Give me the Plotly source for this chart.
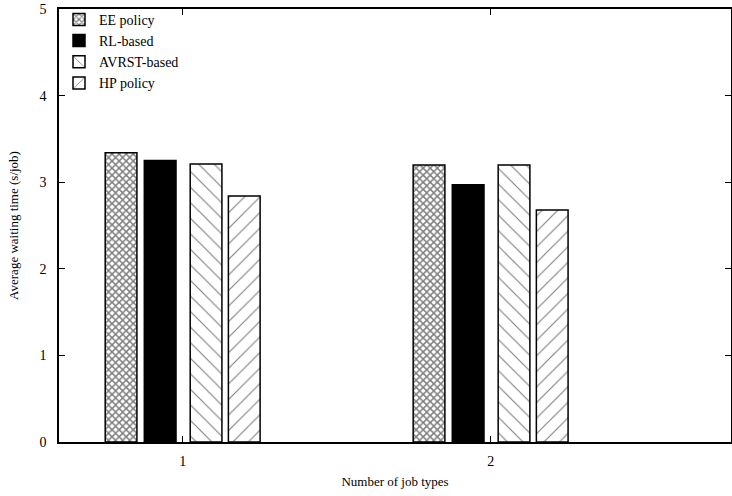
import plotly.graph_objects as go

categories = [1, 2]
series_names = ["EE policy", "RL-based", "AVRST-based", "HP policy"]
ee_policy = [3.34, 3.20]
rl_based = [3.25, 2.97]
avrst_based = [3.21, 3.20]
hp_policy = [2.84, 2.68]
x_tick_labels = ["1", "2"]
y_ticks = [0, 1, 2, 3, 4, 5]

values = [ee_policy, rl_based, avrst_based, hp_policy]
offsets = [-0.252, -0.125, 0.024, 0.148]
patterns = [
    dict(shape="x", size=5, solidity=0.5, fgcolor="black", bgcolor="white"),
    dict(shape="", fgcolor="black"),
    dict(shape="\\", size=11, solidity=0.1, fgcolor="black", bgcolor="white"),
    dict(shape="/", size=11, solidity=0.1, fgcolor="black", bgcolor="white"),
]
colors = ["white", "black", "white", "white"]

fig = go.Figure()
for name, vals, off, pat, col in zip(series_names, values, offsets, patterns, colors):
    fig.add_trace(go.Bar(
        x=categories, y=vals, name=name,
        offset=off, width=0.103,
        marker=dict(color=col, pattern=pat, line=dict(color="black", width=1.5)),
    ))

font = "Liberation Serif, Times New Roman, serif"
fig.update_layout(
    width=732, height=496,
    margin=dict(l=59, r=1, t=9, b=54),
    barmode="overlay",
    plot_bgcolor="white", paper_bgcolor="white",
    font=dict(family=font, size=13, color="black"),
    showlegend=True,
    legend=dict(x=0.0, y=1.012, xanchor="left", yanchor="top",
                bgcolor="rgba(0,0,0,0)", font=dict(family=font, size=14, color="black"),
                tracegroupgap=0, itemwidth=30),
)
fig.update_xaxes(
    range=[0.598, 2.78], tickvals=categories, ticktext=x_tick_labels,
    ticks="inside", ticklen=6, tickwidth=1, tickcolor="black",
    showline=True, linecolor="black", linewidth=1.5, mirror="ticks",
    showgrid=False, zeroline=False, automargin=False,
    ticklabelstandoff=5,
    title=dict(text="Number of job types", font=dict(family=font, size=13, color="black"), standoff=9),
    tickfont=dict(family=font, size=14, color="black"),
)
fig.update_yaxes(
    range=[0, 5], tickvals=y_ticks,
    ticks="inside", ticklen=6, tickwidth=1, tickcolor="black",
    showline=True, linecolor="black", linewidth=1.5, mirror="ticks",
    showgrid=False, zeroline=False, automargin=False,
    ticklabelstandoff=8,
    title=dict(text="Average waiting time (s/job)", font=dict(family=font, size=13, color="black"), standoff=18),
    tickfont=dict(family=font, size=14, color="black"),
)
fig.write_html("out.html", config={"displayModeBar": False},
               post_script="document.body.style.margin='0';")
